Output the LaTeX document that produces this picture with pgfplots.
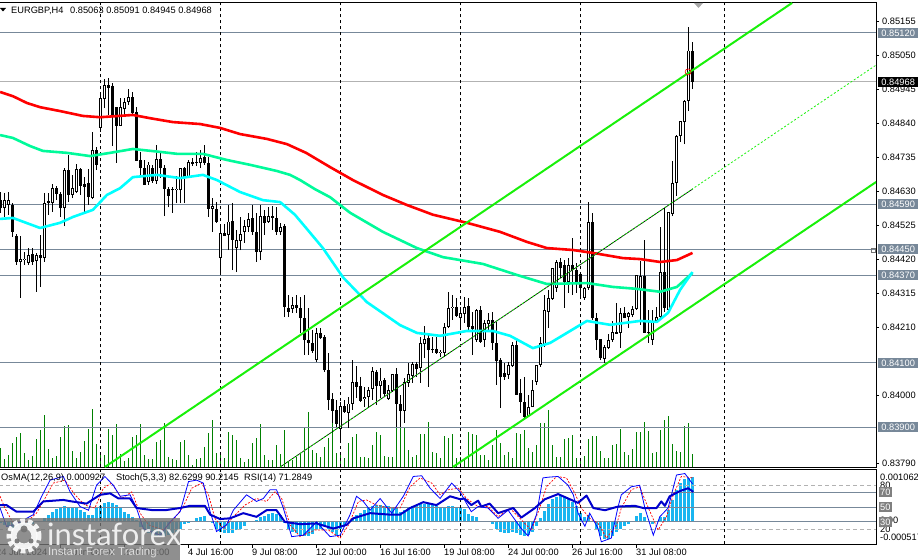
\documentclass[border=0pt]{standalone}
\usepackage{pgfplots}
\usepackage{pgfplotstable}
\usepackage{fontspec}
\setmainfont{Liberation Sans}
\newfontfamily\logofont{Lato}
\pgfplotsset{compat=1.18}
\definecolor{slate}{HTML}{778899}
\definecolor{springg}{HTML}{00FA9A}
\definecolor{osma}{HTML}{19B5F0}
\definecolor{volg}{HTML}{008000}
\definecolor{chan}{HTML}{19F00A}
\definecolor{aqua}{HTML}{00FFFF}
\definecolor{pure}{HTML}{FF0000}
\definecolor{pureb}{HTML}{0000FF}
\definecolor{midb}{HTML}{0000CD}
\newcommand{\lab}{\fontsize{9.3}{11}\selectfont}

\pgfplotstableread{
k h l top bot
1 0.84624 0.84550 0.84602 0.84577
2 0.84627 0.84557 0.84602 0.84587
5 0.84491 0.84300 0.84420 0.84411
6 0.84442 0.84402 0.84420 0.84417
7 0.84454 0.84402 0.84433 0.84408
9 0.84439 0.84319 0.84433 0.84414
11 0.84624 0.84411 0.84593 0.84423
13 0.84652 0.84566 0.84639 0.84593
16 0.84701 0.84522 0.84695 0.84577
18 0.84680 0.84608 0.84639 0.84618
19 0.84714 0.84624 0.84698 0.84627
23 0.84812 0.84605 0.84757 0.84608
25 0.84933 0.84812 0.84917 0.84825
26 0.84976 0.84886 0.84957 0.84914
30 0.84917 0.84831 0.84889 0.84831
31 0.84917 0.84858 0.84905 0.84883
32 0.84945 0.84896 0.84920 0.84905
37 0.84720 0.84649 0.84711 0.84658
39 0.84772 0.84652 0.84729 0.84661
44 0.84677 0.84593 0.84636 0.84633
45 0.84701 0.84593 0.84701 0.84633
47 0.84726 0.84673 0.84720 0.84673
50 0.84757 0.84701 0.84732 0.84717
53 0.84608 0.84504 0.84584 0.84575
55 0.84529 0.84371 0.84500 0.84423
57 0.84587 0.84448 0.84535 0.84495
59 0.84510 0.84380 0.84479 0.84454
60 0.84550 0.84448 0.84495 0.84476
61 0.84541 0.84470 0.84522 0.84504
62 0.84563 0.84504 0.84544 0.84519
65 0.84587 0.84417 0.84553 0.84442
67 0.84580 0.84532 0.84553 0.84535
70 0.84532 0.84495 0.84519 0.84504
73 0.84303 0.84254 0.84278 0.84266
79 0.84207 0.84102 0.84192 0.84108
85 0.83979 0.83852 0.83966 0.83895
87 0.83994 0.83898 0.83973 0.83945
88 0.84108 0.83954 0.84040 0.83973
91 0.84025 0.83963 0.83994 0.83988
92 0.84025 0.83963 0.84016 0.83994
93 0.84087 0.83985 0.84074 0.84019
95 0.84083 0.83991 0.84044 0.84028
97 0.84032 0.83985 0.84016 0.83988
98 0.84065 0.84010 0.84065 0.84013
101 0.84053 0.83914 0.84038 0.83951
102 0.84099 0.84025 0.84065 0.84038
103 0.84102 0.84038 0.84096 0.84059
105 0.84179 0.84038 0.84161 0.84083
106 0.84213 0.84114 0.84173 0.84158
110 0.84139 0.84117 0.84133 0.84130
111 0.84223 0.84117 0.84210 0.84130
112 0.84319 0.84207 0.84269 0.84210
113 0.84310 0.84232 0.84272 0.84269
115 0.84272 0.84201 0.84251 0.84238
116 0.84303 0.84223 0.84272 0.84251
119 0.84266 0.84164 0.84263 0.84170
121 0.84232 0.84148 0.84223 0.84170
122 0.84254 0.84201 0.84232 0.84220
127 0.84102 0.84050 0.84093 0.84062
128 0.84164 0.84087 0.84155 0.84089
132 0.84001 0.83933 0.83963 0.83936
133 0.84047 0.83963 0.84016 0.83963
134 0.84093 0.84032 0.84093 0.84041
135 0.84179 0.84087 0.84161 0.84093
136 0.84310 0.84148 0.84263 0.84155
137 0.84325 0.84207 0.84300 0.84257
138 0.84392 0.84294 0.84392 0.84297
139 0.84417 0.84319 0.84411 0.84331
142 0.84423 0.84316 0.84402 0.84349
146 0.84334 0.84294 0.84331 0.84300
147 0.84596 0.84325 0.84532 0.84331
151 0.84155 0.84099 0.84148 0.84111
152 0.84189 0.84142 0.84170 0.84145
153 0.84229 0.84164 0.84195 0.84170
155 0.84269 0.84145 0.84251 0.84192
157 0.84257 0.84207 0.84251 0.84241
158 0.84275 0.84241 0.84266 0.84247
159 0.84371 0.84263 0.84371 0.84266
160 0.84414 0.84217 0.84368 0.84325
163 0.84263 0.84155 0.84229 0.84170
164 0.84272 0.84226 0.84241 0.84229
165 0.84519 0.84238 0.84380 0.84241
167 0.84566 0.84254 0.84563 0.84263
168 0.84723 0.84553 0.84655 0.84559
169 0.84803 0.84615 0.84800 0.84655
170 0.84846 0.84781 0.84846 0.84800
171 0.84911 0.84775 0.84908 0.84843
172 0.85137 0.84877 0.85063 0.84908
}\upc

\pgfplotstableread{
k h l top bot
0 0.84627 0.84563 0.84602 0.84577
3 0.84593 0.84488 0.84587 0.84504
4 0.84498 0.84402 0.84491 0.84411
8 0.84454 0.84402 0.84436 0.84411
10 0.84495 0.84333 0.84433 0.84423
12 0.84624 0.84557 0.84599 0.84593
14 0.84646 0.84602 0.84639 0.84621
15 0.84627 0.84550 0.84621 0.84577
17 0.84742 0.84596 0.84695 0.84618
20 0.84701 0.84618 0.84698 0.84646
21 0.84673 0.84566 0.84652 0.84642
22 0.84698 0.84587 0.84655 0.84611
24 0.84766 0.84695 0.84757 0.84711
27 0.84979 0.84865 0.84957 0.84948
28 0.84964 0.84769 0.84954 0.84858
29 0.84889 0.84717 0.84889 0.84831
33 0.84936 0.84868 0.84920 0.84871
34 0.84889 0.84723 0.84874 0.84723
35 0.84751 0.84673 0.84726 0.84701
36 0.84726 0.84649 0.84701 0.84649
38 0.84711 0.84655 0.84701 0.84661
40 0.84751 0.84670 0.84729 0.84701
41 0.84711 0.84553 0.84701 0.84636
42 0.84642 0.84580 0.84636 0.84615
43 0.84642 0.84563 0.84636 0.84633
46 0.84704 0.84593 0.84701 0.84673
48 0.84732 0.84707 0.84720 0.84714
49 0.84751 0.84707 0.84720 0.84717
51 0.84772 0.84711 0.84735 0.84717
52 0.84735 0.84550 0.84717 0.84575
54 0.84596 0.84532 0.84575 0.84535
56 0.84529 0.84491 0.84500 0.84491
58 0.84593 0.84386 0.84538 0.84479
63 0.84587 0.84495 0.84547 0.84504
64 0.84563 0.84411 0.84504 0.84442
66 0.84572 0.84495 0.84553 0.84532
68 0.84583 0.84510 0.84553 0.84547
69 0.84580 0.84495 0.84547 0.84504
71 0.84529 0.84241 0.84522 0.84272
72 0.84310 0.84241 0.84269 0.84257
74 0.84310 0.84254 0.84278 0.84269
75 0.84303 0.84192 0.84269 0.84238
76 0.84310 0.84124 0.84238 0.84170
77 0.84269 0.84124 0.84170 0.84161
78 0.84201 0.84130 0.84161 0.84136
80 0.84207 0.84173 0.84192 0.84176
81 0.84186 0.84071 0.84179 0.84077
82 0.84130 0.83954 0.84077 0.83985
83 0.84007 0.83914 0.83988 0.83951
84 0.83985 0.83902 0.83954 0.83911
86 0.83985 0.83945 0.83966 0.83948
89 0.84089 0.83991 0.84040 0.84025
90 0.84056 0.83979 0.84028 0.83982
94 0.84077 0.83970 0.84071 0.84028
96 0.84053 0.83994 0.84047 0.84004
99 0.84083 0.83902 0.84065 0.83973
100 0.84001 0.83902 0.83973 0.83951
104 0.84102 0.84056 0.84096 0.84080
107 0.84186 0.84025 0.84176 0.84139
108 0.84179 0.84130 0.84142 0.84139
109 0.84179 0.84127 0.84142 0.84130
114 0.84300 0.84241 0.84272 0.84244
117 0.84300 0.84201 0.84275 0.84210
118 0.84257 0.84124 0.84213 0.84204
120 0.84275 0.84161 0.84263 0.84164
123 0.84257 0.84139 0.84232 0.84161
124 0.84226 0.84032 0.84161 0.84105
125 0.84114 0.83960 0.84108 0.84056
126 0.84099 0.84047 0.84068 0.84056
129 0.84170 0.84001 0.84155 0.84001
130 0.84050 0.83945 0.84004 0.83979
131 0.84056 0.83929 0.83979 0.83933
140 0.84423 0.84361 0.84411 0.84392
141 0.84417 0.84269 0.84402 0.84349
143 0.84485 0.84310 0.84402 0.84386
144 0.84408 0.84316 0.84386 0.84343
145 0.84377 0.84300 0.84374 0.84331
148 0.84563 0.84232 0.84535 0.84238
149 0.84254 0.84139 0.84238 0.84170
150 0.84173 0.84108 0.84173 0.84114
154 0.84284 0.84189 0.84195 0.84189
156 0.84272 0.84238 0.84254 0.84238
161 0.84479 0.84192 0.84368 0.84192
162 0.84263 0.84161 0.84195 0.84192
166 0.84577 0.84257 0.84380 0.84269
173 0.85091 0.84945 0.85063 0.84968
}\downc

\pgfplotstableread{
k v
0 19
1 8
2 12
3 24
4 30
5 34
6 14
7 7
8 11
9 28
10 37
11 52
12 18
13 9
14 11
15 30
16 41
17 42
18 16
19 9
20 15
21 26
22 38
23 58
24 23
25 14
26 12
27 38
28 32
29 43
30 13
31 6
32 9
33 30
34 32
35 43
36 12
37 8
38 8
39 25
40 27
41 44
42 10
43 8
44 7
45 25
46 27
47 12
48 2
49 8
50 9
51 20
52 34
53 47
54 14
55 13
56 9
57 35
58 32
59 27
60 9
61 5
62 8
63 24
64 29
65 43
66 12
67 7
68 7
69 22
70 13
71 37
72 5
73 7
74 10
75 14
76 39
77 55
78 17
79 14
80 10
81 20
82 29
83 45
84 14
85 15
86 9
87 24
88 30
89 33
90 10
91 10
92 9
93 22
94 35
95 32
96 11
97 10
98 10
99 40
100 39
101 39
102 17
103 10
104 12
105 33
106 33
107 45
108 15
109 14
110 9
111 31
112 29
113 33
114 9
115 10
116 9
117 35
118 33
119 32
120 12
121 12
122 7
123 22
124 37
125 24
126 12
127 15
128 9
129 34
130 33
131 37
132 19
133 15
134 22
135 44
136 44
137 57
138 22
139 10
140 10
141 28
142 29
143 32
144 9
145 9
146 11
147 28
148 31
149 31
150 16
151 9
152 9
153 22
154 23
155 38
156 15
157 12
158 18
159 35
160 35
161 45
162 36
163 14
164 15
165 37
166 47
167 51
168 23
169 16
170 15
171 41
172 44
173 13
}\volt

\pgfplotstableread{
k o
0 -0.00005
1 -0.00009
2 -0.00012
3 -0.00016
4 -0.00016
5 -0.00014
6 -0.00012
7 -0.00010
8 -0.00007
9 -0.00003
10 0.00001
11 0.00006
12 0.00013
13 0.00020
14 0.00025
15 0.00027
16 0.00031
17 0.00030
18 0.00029
19 0.00027
20 0.00023
21 0.00019
22 0.00013
23 0.00013
24 0.00027
25 0.00033
26 0.00038
27 0.00040
28 0.00038
29 0.00034
30 0.00027
31 0.00020
32 0.00014
33 0.00009
34 0.00002
35 -0.00012
36 -0.00019
37 -0.00026
38 -0.00031
39 -0.00033
40 -0.00033
41 -0.00031
42 -0.00030
43 -0.00026
44 -0.00023
45 -0.00016
46 -0.00007
47 -0.00005
48 -0.00001
49 0.00006
50 0.00009
51 0.00011
52 0.00000
53 -0.00005
54 -0.00016
55 -0.00023
56 -0.00026
57 -0.00026
58 -0.00025
59 -0.00019
60 -0.00016
61 -0.00011
62 -0.00003
63 0.00000
64 0.00002
65 0.00009
66 0.00011
67 0.00014
68 0.00018
69 0.00016
70 0.00013
71 -0.00005
72 -0.00016
73 -0.00023
74 -0.00026
75 -0.00032
76 -0.00033
77 -0.00033
78 -0.00028
79 -0.00019
80 -0.00016
81 -0.00009
82 -0.00016
83 -0.00023
84 -0.00030
85 -0.00016
86 -0.00009
87 -0.00001
88 0.00006
89 0.00013
90 0.00018
91 0.00023
92 0.00027
93 0.00031
94 0.00034
95 0.00034
96 0.00033
97 0.00031
98 0.00028
99 0.00027
100 0.00020
101 0.00023
102 0.00027
103 0.00031
104 0.00034
105 0.00038
106 0.00036
107 0.00036
108 0.00034
109 0.00031
110 0.00027
111 0.00027
112 0.00031
113 0.00033
114 0.00027
115 0.00027
116 0.00026
117 0.00016
118 0.00011
119 0.00009
120 -0.00001
121 -0.00001
122 -0.00001
123 -0.00007
124 -0.00017
125 -0.00023
126 -0.00026
127 -0.00025
128 -0.00023
129 -0.00026
130 -0.00030
131 -0.00031
132 -0.00030
133 -0.00023
134 -0.00010
135 0.00006
136 0.00022
137 0.00036
138 0.00047
139 0.00052
140 0.00055
141 0.00052
142 0.00048
143 0.00041
144 0.00031
145 0.00018
146 0.00009
147 0.00013
148 -0.00001
149 -0.00016
150 -0.00033
151 -0.00038
152 -0.00038
153 -0.00033
154 -0.00023
155 -0.00016
156 -0.00011
157 -0.00006
158 0.00000
159 0.00011
160 0.00018
161 0.00009
162 0.00000
163 -0.00007
164 -0.00001
165 0.00009
166 0.00009
167 0.00023
168 0.00045
169 0.00066
170 0.00082
171 0.00090
172 0.00091
173 0.00093
}\osmat

\begin{document}
\begin{tikzpicture}
\useasboundingbox (0bp,0bp) rectangle (918bp,560bp);

% tick volumes
\begin{axis}[at={(-1bp,92.5bp)}, anchor=south west, scale only axis,
  width=877bp, height=465bp, xmin=-0.375, xmax=218.875, ymin=0, ymax=465, hide axis]
\addplot[ycomb, draw=volg, line width=1bp, no marks] table[x=k,y=v] {\volt};
\end{axis}

% price panel
\begin{axis}[at={(-1bp,92.5bp)}, anchor=south west, scale only axis,
  width=877bp, height=465bp, xmin=-0.375, xmax=218.875, ymin=0.837764, ymax=0.852123,
  axis line style={line width=1bp,black},
  xtick=\empty,
  ytick={0.85155,0.85050,0.84945,0.84840,0.84735,0.84630,0.84525,0.84420,0.84315,0.84210,0.84000,0.83790},
  yticklabels={0.85155,0.85050,0.84945,0.84840,0.84735,0.84630,0.84525,0.84420,0.84315,0.84210,0.84000,0.83790},
  ytick pos=right, yticklabel pos=right, tick align=outside, major tick length=3bp,
  tick style={black,line width=0.6bp},
  yticklabel style={font=\lab, anchor=west, inner sep=0pt, xshift=3bp, text=black},
  error bars/error mark=none]
% levels
\addplot[slate, line width=1bp] coordinates {(-0.375,0.8512)(218.875,0.8512)};
\addplot[slate, line width=1bp] coordinates {(-0.375,0.8459)(218.875,0.8459)};
\addplot[slate, line width=1bp] coordinates {(-0.375,0.8445)(218.875,0.8445)};
\addplot[slate, line width=1bp] coordinates {(-0.375,0.8437)(218.875,0.8437)};
\addplot[slate, line width=1bp] coordinates {(-0.375,0.8410)(218.875,0.8410)};
\addplot[slate, line width=1bp] coordinates {(-0.375,0.8390)(218.875,0.8390)};
\addplot[black!30, line width=1bp] coordinates {(-0.375,0.84968)(218.875,0.84968)};
% period separators
\addplot[black, line width=1bp, dash pattern=on 3bp off 3bp] coordinates {(25,0.837764)(25,0.852123)};
\addplot[black, line width=1bp, dash pattern=on 3bp off 3bp] coordinates {(55,0.837764)(55,0.852123)};
\addplot[black, line width=1bp, dash pattern=on 3bp off 3bp] coordinates {(85,0.837764)(85,0.852123)};
\addplot[black, line width=1bp, dash pattern=on 3bp off 3bp] coordinates {(115,0.837764)(115,0.852123)};
\addplot[black, line width=1bp, dash pattern=on 3bp off 3bp] coordinates {(145,0.837764)(145,0.852123)};
\addplot[black, line width=1bp, dash pattern=on 3bp off 3bp] coordinates {(181,0.837764)(181,0.852123)};
% wicks
\addplot[draw=none, no marks, error bars/.cd, y dir=plus, y explicit, error bar style={draw=black,line width=1bp,solid}]
  table[x=k, y=l, y error plus expr=\thisrow{h}-\thisrow{l}] {\upc};
\addplot[draw=none, no marks, error bars/.cd, y dir=plus, y explicit, error bar style={draw=black,line width=1bp,solid}]
  table[x=k, y=l, y error plus expr=\thisrow{h}-\thisrow{l}] {\downc};
% bodies
\addplot[draw=none, no marks, error bars/.cd, y dir=plus, y explicit, error bar style={draw=black,line width=3bp,solid}]
  table[x=k, y=bot, y error plus expr=\thisrow{top}-\thisrow{bot}+0.00001] {\upc};
\addplot[draw=none, no marks, error bars/.cd, y dir=plus, y explicit, error bar style={draw=black,line width=3bp,solid}]
  table[x=k, y=bot, y error plus expr=\thisrow{top}-\thisrow{bot}+0.00001] {\downc};
\addplot[draw=none, no marks, error bars/.cd, y dir=plus, y explicit, error bar style={draw=white,line width=1.1bp,solid}]
  table[x=k, y expr=\thisrow{bot}+0.00003, y error plus expr=\thisrow{top}-\thisrow{bot}-0.00005] {\upc};
% moving averages
\addplot[pure, line width=2.6bp, line join=round] coordinates {
(-0.1,0.84936)(3.1,0.84923)(6.6,0.84902)(9.9,0.84889)(14.9,0.84877)(20.6,0.84862)(24.9,0.84858)(33.1,0.84865)(37.4,0.84855)(43.1,0.84843)(49.9,0.84837)(54.9,0.84825)(59.9,0.84806)(66.6,0.84791)(71.6,0.84775)(76.4,0.84748)(82.4,0.84704)(88.1,0.84664)(95.6,0.84618)(101.6,0.84587)(108.1,0.84557)(116.6,0.84532)(124.9,0.84504)(131.6,0.84473)(136.6,0.84454)(143.1,0.84448)(148.1,0.84439)(155.6,0.84423)(159.9,0.84420)(164.9,0.84411)(169.1,0.84417)(173,0.84439)};
\addplot[springg, line width=2.6bp, line join=round] coordinates {
(-0.1,0.84803)(3.1,0.84794)(7.4,0.84769)(10.6,0.84754)(16.6,0.84748)(22.4,0.84738)(27.4,0.84748)(33.1,0.84760)(39.9,0.84751)(44.1,0.84745)(50.6,0.84745)(56.6,0.84726)(62.4,0.84711)(69.1,0.84692)(72.4,0.84680)(74.9,0.84664)(78.6,0.84636)(82.4,0.84611)(87.4,0.84563)(95.6,0.84504)(104.1,0.84454)(110.6,0.84426)(120.6,0.84405)(129.1,0.84371)(136.6,0.84343)(146.6,0.84346)(153.1,0.84334)(159.1,0.84328)(164.9,0.84319)(169.1,0.84334)(173,0.84377)};
\addplot[aqua, line width=2.6bp, line join=round] coordinates {
(-0.1,0.84544)(3.1,0.84547)(9.9,0.84516)(14.9,0.84532)(18.1,0.84550)(23.1,0.84572)(26.6,0.84618)(29.9,0.84639)(33.1,0.84673)(39.1,0.84680)(44.9,0.84670)(50.6,0.84680)(54.1,0.84664)(59.9,0.84627)(65.6,0.84602)(69.9,0.84596)(73.6,0.84557)(76.4,0.84516)(80.6,0.84454)(85.6,0.84364)(91.6,0.84287)(99.9,0.84216)(104.1,0.84192)(109.9,0.84183)(116.6,0.84198)(123.1,0.84198)(127.4,0.84183)(133.1,0.84145)(137.4,0.84161)(141.6,0.84192)(146.6,0.84229)(152.4,0.84217)(159.9,0.84229)(164.1,0.84226)(166.9,0.84254)(169.9,0.84325)(173,0.84380)};
% channel
\addplot[chan, line width=2bp] coordinates {(26.1,0.83778)(197.9,0.85211)};
\addplot[chan, line width=2bp] coordinates {(113.1,0.83778)(218.9,0.84658)};
\addplot[black, line width=0.7bp] coordinates {(69.9,0.83778)(173.1,0.84637)};
\addplot[chan, line width=0.8bp, dash pattern=on 2bp off 2bp] coordinates {(69.9,0.83778)(218.9,0.85019)};
% last-tick marker
\addplot[only marks, mark=o, mark size=3bp, mark options={pure,line width=0.6bp,fill=none}] coordinates {(171.9,0.84998)};
\end{axis}

% OsMA histogram
\begin{axis}[at={(-1bp,15.5bp)}, anchor=south west, scale only axis,
  width=877bp, height=75bp, xmin=-0.375, xmax=218.875, ymin=-0.000501, ymax=0.001099, hide axis]
\addplot[ycomb, draw=osma, line width=3bp, no marks] table[x=k,y=o] {\osmat};
\end{axis}

% Stochastic and RSI panel
\begin{axis}[at={(-1bp,15.5bp)}, anchor=south west, scale only axis,
  width=877bp, height=75bp, xmin=-0.375, xmax=218.875, ymin=-0.7, ymax=101.5,
  axis line style={line width=1bp,black},
  ytick=\empty,
  xtick={14.875,30.875,46.875,62.875,78.875,94.875,110.875,126.875,142.875,158.875},
  xticklabels={27 Jun 08:00,2 Jul 00:00,4 Jul 16:00,9 Jul 08:00,12 Jul 00:00,16 Jul 16:00,19 Jul 08:00,24 Jul 00:00,26 Jul 16:00,31 Jul 08:00},
  xtick pos=bottom, tick align=outside, major tick length=3bp, tick style={black,line width=0.6bp},
  xticklabel style={font=\lab, anchor=north west, inner sep=0pt, yshift=-1bp, text=black}]
\addplot[black!30, line width=1bp, dash pattern=on 4bp off 3bp] coordinates {(-0.375,80)(218.875,80)};
\addplot[black!30, line width=1bp, dash pattern=on 4bp off 3bp] coordinates {(-0.375,20)(218.875,20)};
\addplot[slate, line width=1bp] coordinates {(-0.375,70)(218.875,70)};
\addplot[slate, line width=1bp] coordinates {(-0.375,50)(218.875,50)};
\addplot[slate, line width=1bp] coordinates {(-0.375,30)(218.875,30)};
\addplot[black, line width=1bp, dash pattern=on 3bp off 3bp] coordinates {(25,-0.7)(25,101.5)};
\addplot[black, line width=1bp, dash pattern=on 3bp off 3bp] coordinates {(55,-0.7)(55,101.5)};
\addplot[black, line width=1bp, dash pattern=on 3bp off 3bp] coordinates {(85,-0.7)(85,101.5)};
\addplot[black, line width=1bp, dash pattern=on 3bp off 3bp] coordinates {(115,-0.7)(115,101.5)};
\addplot[black, line width=1bp, dash pattern=on 3bp off 3bp] coordinates {(145,-0.7)(145,101.5)};
\addplot[black, line width=1bp, dash pattern=on 3bp off 3bp] coordinates {(181,-0.7)(181,101.5)};
% stochastic signal
\addplot[pure, line width=0.7bp, dash pattern=on 2bp off 1.5bp] coordinates {
(-0.1,65)(1.1,49)(3.2,28)(6.5,30)(9,42)(11.1,62)(13.2,83)(16.1,87)(18.6,67)(21.1,53)(23.6,49)(25.7,76)(27.8,83)(30.3,62)(32.8,71)(34.9,42)(37,26)(40.7,19)(43.2,33)(45.7,51)(47.8,76)(50.3,83)(52,67)(53.6,35)(55.7,21)(58.2,37)(61.1,53)(64,62)(66.5,58)(68.6,71)(70.3,62)(72.4,26)(74.9,10)(78.6,19)(82,19)(84.9,8)(87,26)(89.5,58)(91.5,60)(94,53)(97,49)(99.9,49)(102.4,78)(104.9,90)(107.8,83)(109.9,67)(112,74)(114.5,76)(116.5,62)(119.4,51)(121.9,51)(124.4,37)(127.3,49)(130.2,33)(132.7,19)(134.8,49)(136.5,78)(139,92)(141.5,90)(143.6,69)(145.2,49)(147.3,35)(149.4,28)(151.5,8)(154,26)(155.2,49)(157.7,74)(159.8,78)(161.5,55)(164.4,19)(166.5,37)(168.2,67)(170.2,92)(173.2,90)};
% stochastic main
\addplot[pureb, line width=0.8bp] coordinates {
(-0.1,49)(1.5,24)(3.2,26)(4.9,30)(8.2,40)(10.3,65)(12.4,87)(15.7,92)(17.4,71)(19.9,51)(22,46)(24,80)(26.1,92)(28.2,80)(29.9,65)(32.4,67)(34,49)(35.7,21)(39.9,12)(42.4,30)(44.9,44)(47,85)(49,87)(50.7,83)(52.4,44)(54,17)(56.5,26)(58.2,46)(61.5,67)(64,58)(65.7,62)(67.4,74)(69,74)(70.7,49)(72.8,10)(75.7,12)(79,30)(82.4,10)(84.9,12)(87.4,40)(89,65)(90.7,58)(92.4,46)(94.9,62)(97.8,42)(100.7,65)(103.2,92)(105.3,93)(107.4,76)(109.9,62)(112.8,83)(114.9,71)(116,60)(117.7,44)(119.4,51)(121.9,49)(124.4,35)(126.9,46)(130.2,21)(131.9,11)(134,40)(135.6,90)(136.9,91)(139.4,92)(141.9,80)(143.2,67)(144.4,42)(146.1,24)(147.3,42)(149.4,21)(150.2,3)(152.7,8)(154.4,51)(155.2,67)(157.7,78)(159.8,80)(161.1,49)(163.2,12)(164.8,37)(166.9,49)(169,94)(171.1,96)(173,82)};
% RSI
\addplot[midb, line width=2bp, line join=round] coordinates {
(-0.1,53)(1.5,53)(4,44)(8.2,44)(10.7,58)(15.7,60)(17.8,58)(21.5,55)(24.9,67)(27.4,69)(29.5,62)(32.4,62)(34,49)(38.2,46)(41.1,46)(44.9,49)(47.4,52)(51.1,52)(52.4,40)(54.9,34)(57.4,35)(60.7,42)(64,37)(66.5,46)(69,46)(71.1,30)(74.9,27)(79,28)(83.2,21)(86.5,26)(88.2,35)(92.4,42)(97.4,40)(99.9,40)(102.4,49)(105.7,57)(109,53)(112.4,65)(114.9,61)(116,62)(117.7,53)(119.4,59)(120.2,51)(122.3,55)(124.4,42)(128.2,49)(130.2,36)(133.6,49)(136.1,61)(139.4,68)(141.9,62)(144.4,56)(146.5,66)(148.2,49)(151.1,46)(154.4,51)(158.6,52)(160.7,49)(164,49)(165.2,58)(166.1,52)(167.3,65)(169.8,72)(171.9,76)(173.2,71)};
\end{axis}

\begin{scope}[x=1bp,y=1bp]
% header texts
\node[anchor=west, inner sep=0pt, font=\lab] at (11,549.5) {EURGBP,H4};
\node[anchor=west, inner sep=0pt, font=\lab] at (70,549.5) {0.85063 0.85091 0.84945 0.84968};
\fill[black] (0,552) -- (6,552) -- (3,548.5) -- cycle;
\fill[black!35] (694,557) -- (703,557) -- (698.5,552) -- cycle;
\draw[black!55, line width=0.7bp] (871,307.5) rectangle (875,311.5);
\node[anchor=west, inner sep=0pt, font=\lab] at (1,82) {OsMA(12,26,9) 0.000927};
\node[anchor=west, inner sep=0pt, font=\lab] at (116,82) {Stoch(5,3,3) 82.6299 90.2145};
\node[anchor=west, inner sep=0pt, font=\lab] at (244,82) {RSI(14) 71.2849};

% level labels
\tikzset{lvl/.style={anchor=west, inner xsep=1.5bp, inner ysep=0pt, minimum height=10bp, minimum width=40bp, text=white, font=\lab, fill=slate}}
\node[lvl] at (878,527) {0.85120};
\node[lvl] at (878,356) {0.84590};
\node[lvl] at (878,310.5) {0.84450};
\node[lvl] at (878,285) {0.84370};
\node[lvl] at (878,197) {0.84100};
\node[lvl] at (878,132.5) {0.83900};
\node[lvl, fill=black] at (878,478) {0.84968};
% lower panel scale
\tikzset{sub/.style={anchor=west, inner sep=0pt, font=\lab, text=black}}
\node[sub] at (880,83) {0.001062};
\node[sub] at (880,75) {80};
\node[sub] at (880,40) {0.00};
\node[sub] at (880,31) {20};
\node[sub] at (880,22.5) {-0.000517};
\tikzset{subb/.style={anchor=west, inner xsep=1bp, inner ysep=0pt, minimum height=10bp, minimum width=11bp, text=white, font=\lab, fill=black!50}}
\node[subb] at (879,67.5) {70};
\node[subb] at (879,53) {50};
\node[subb] at (879,38) {30};
% first date label, clipped by the picture's edge
\node[anchor=north west, inner sep=0pt, font=\lab] at (-4,11) {24 Jun 2024};

% watermark
\fill[black!55, opacity=0.8] (0,0) rectangle (180,42);
\node[anchor=base west, inner sep=0pt, text=white, opacity=0.85, font=\logofont\fontsize{31}{31}\selectfont] at (47,15) {instaforex};
\node[anchor=base west, inner sep=0pt, text=white, opacity=0.7, font=\fontsize{11.5}{12}\selectfont] at (48,5) {Instant Forex Trading};
\begin{scope}[opacity=0.9]
\draw[white, line width=5bp, dash pattern=on 4.5bp off 3bp] (24,24) circle (15);
\draw[white, line width=6bp] (24,24) circle (10.5);
\fill[black!55] (24,31) circle (3.5);
\fill[black!55] (17,19) circle (2.5);
\fill[black!55] (31,19) circle (2.5);
\end{scope}
\end{scope}
\end{tikzpicture}
\end{document}
